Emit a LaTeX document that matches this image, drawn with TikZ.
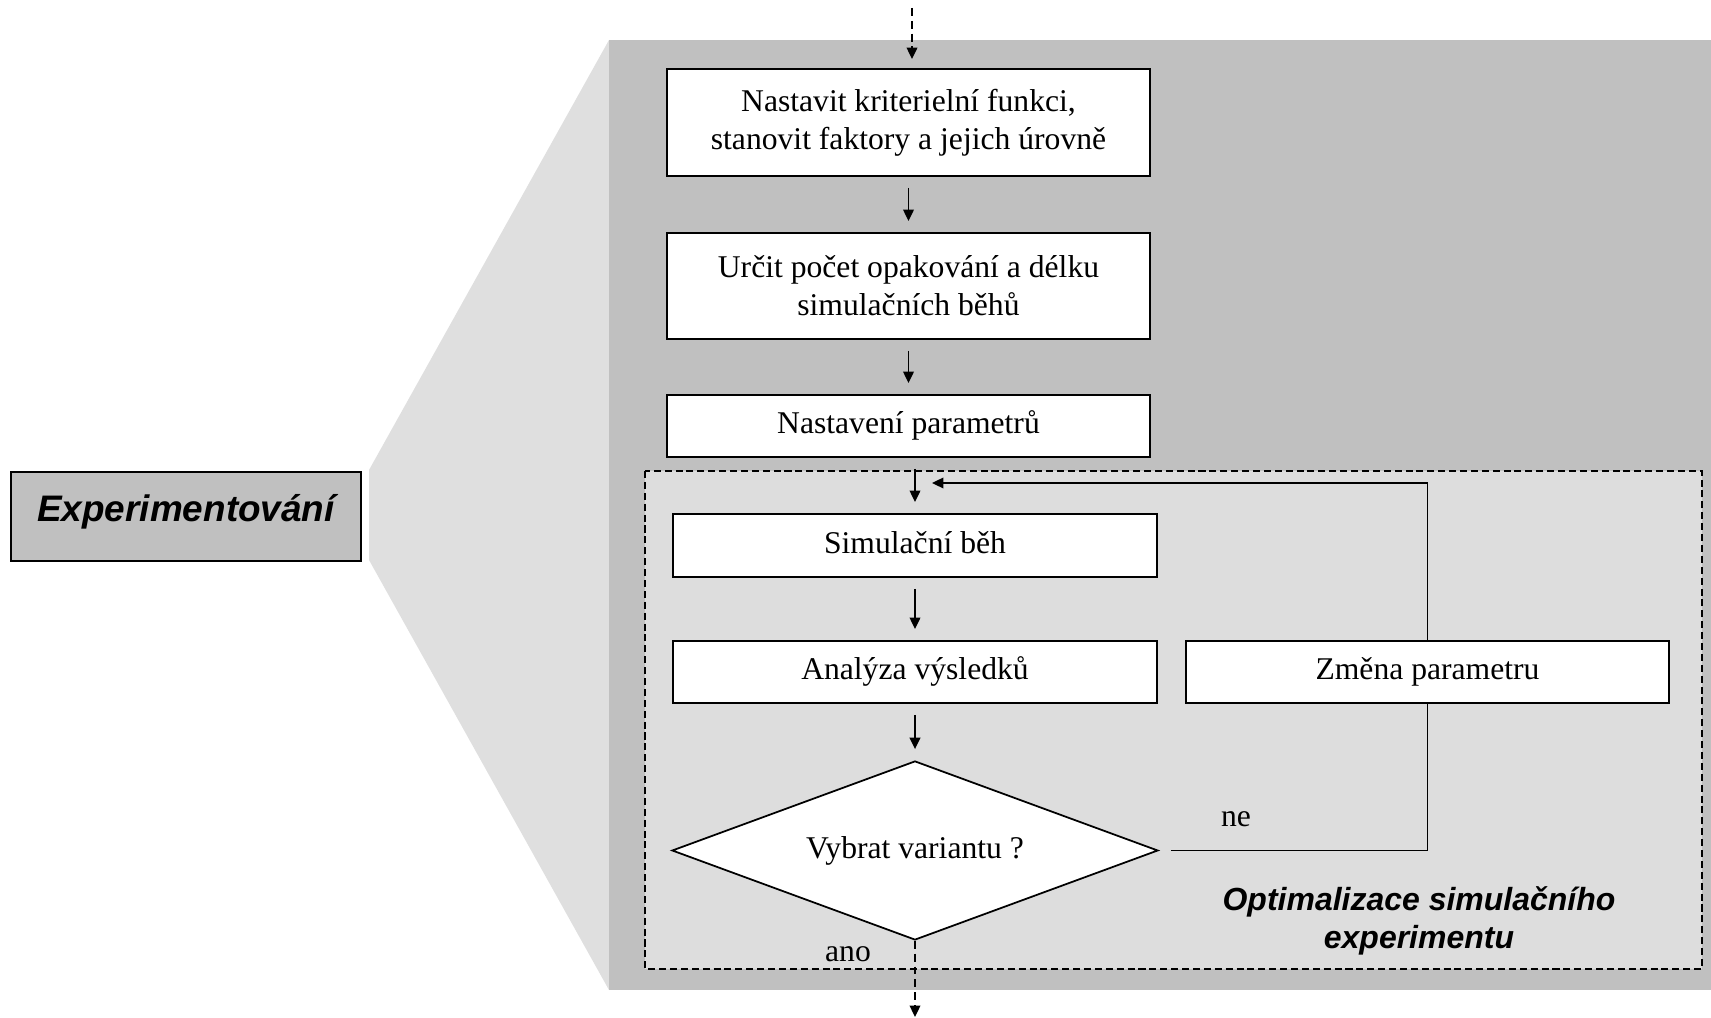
\documentclass[tikz,border=0pt]{standalone}
\usepackage{fontspec}
\setmainfont{Liberation Serif}
\setsansfont{Liberation Sans}
\usepackage{tikz}
\usetikzlibrary{arrows.meta,shapes.geometric}

\definecolor{panelgray}{HTML}{C0C0C0}
\definecolor{fangray}{HTML}{DFDFDF}
\definecolor{loopgray}{HTML}{DDDDDD}

\begin{document}
\begin{tikzpicture}[
	every node/.style={font=\fontsize{18}{21.5}\selectfont},
	procbox/.style={draw, fill=white, line width=1.1pt, align=center, inner sep=0pt},
	oneline/.style={text height=13pt, text depth=4pt},
	flow/.style={line width=1.1pt, -{Triangle[length=6.5pt,width=6pt]}, shorten <=0.22cm, shorten >=0.22cm},
	dashflow/.style={line width=1.1pt, dash pattern=on 4.5pt off 2.8pt, -{Triangle[length=6.5pt,width=6pt]}},
	sanstitle/.style={font=\fontsize{18.2}{21.6}\selectfont\sffamily\bfseries\itshape}
	]
	\useasboundingbox (0,0) rectangle (34.22,-20.36);
	
	% zoom panel
	\fill[fangray] (12.18,-0.80) -- (7.38,-9.40) -- (7.38,-11.20) -- (12.18,-19.80) -- cycle;
	\fill[panelgray] (12.18,-0.80) rectangle (34.22,-19.80);
	\draw[fill=loopgray, line width=1.1pt, dash pattern=on 4pt off 2.2pt] (12.90,-9.42) rectangle (34.04,-19.38);
	
	% phase
	\node[draw, fill=panelgray, line width=1.1pt, minimum width=7cm, minimum height=1.78cm,
	text height=14pt, text depth=8pt,
	font=\fontsize{21}{25}\selectfont\sffamily\bfseries\itshape] (phase) at (3.72,-10.33) {Experimentování};
	
	% steps
	\node[procbox, minimum width=9.66cm, minimum height=2.14cm] (crit) at (18.17,-2.45)
	{Nastavit kriterielní funkci,\\stanovit faktory a jejich úrovně};
	\node[procbox, minimum width=9.66cm, minimum height=2.12cm] (reps) at (18.17,-5.72)
	{Určit počet opakování a délku\\simulačních běhů};
	\node[procbox, oneline, minimum width=9.66cm, minimum height=1.24cm] (params) at (18.17,-8.52) {Nastavení parametrů};
	\node[procbox, oneline, minimum width=9.68cm, minimum height=1.26cm] (run) at (18.30,-10.91) {Simulační běh};
	\node[procbox, oneline, minimum width=9.68cm, minimum height=1.24cm] (anal) at (18.30,-13.44) {Analýza výsledků};
	\node[draw, diamond, aspect=2.7, fill=white, line width=1pt, oneline, inner sep=0pt,
	minimum width=9.72cm, minimum height=3.58cm] (choose) at (18.30,-17.01) {Vybrat variantu ?};
	\node[procbox, oneline, minimum width=9.66cm, minimum height=1.24cm] (change) at (28.55,-13.44) {Změna parametru};
	
	% labels
	\node[anchor=base] (no) at (24.72,-16.54) {ne};
	\node[anchor=base] (yes) at (16.96,-19.22) {ano};
	\node[sanstitle, align=center] (optlabel) at (28.38,-18.42) {Optimalizace simulačního\\experimentu};
	
	\coordinate (entry) at (18.24,-0.16);
	\coordinate (exit) at (18.30,-20.34);
	\coordinate (back) at (18.64,-9.66);
	
	% connectors
	\draw[dashflow, shorten >=0.18cm] (entry) -- (entry |- crit.north);
	\draw[flow] (crit) -- (reps);
	\draw[flow] (reps) -- (params);
	\draw[flow] (params.south -| run.north) -- (run.north);
	\draw[flow] (run) -- (anal);
	\draw[flow] (anal) -- (choose);
	\draw[dashflow] (choose.south) -- (exit);
	\draw[line width=1.1pt] ([xshift=0.24cm]choose.east) -| (change.south);
	\draw[line width=1.1pt, -{Triangle[length=6.5pt,width=6pt]}] (change.north) |- (back);
	
\end{tikzpicture}
\end{document}
